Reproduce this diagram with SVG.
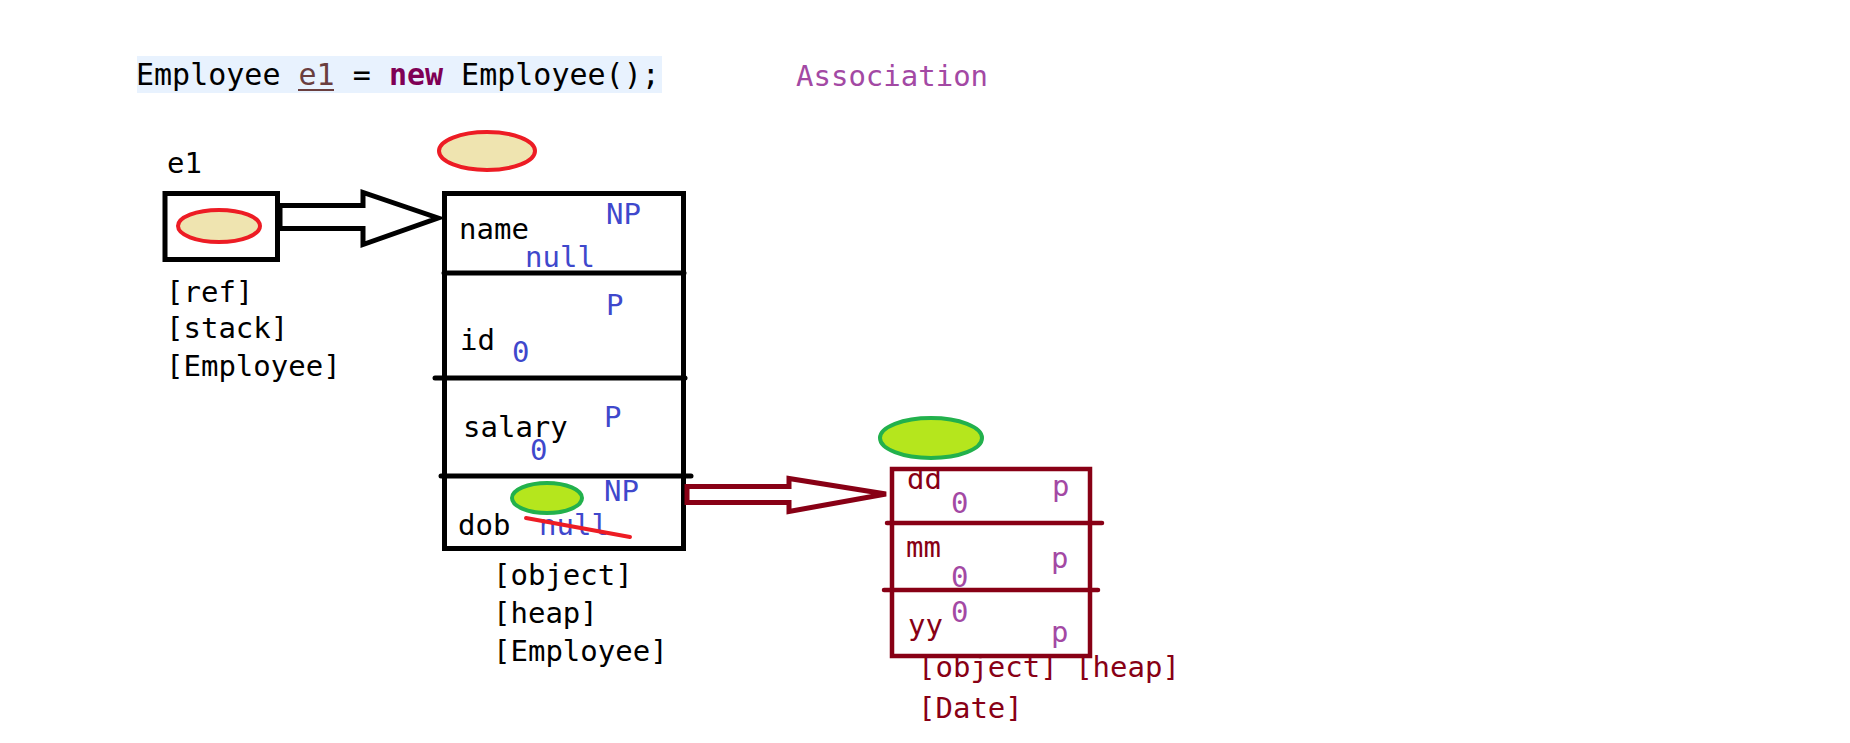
<svg xmlns="http://www.w3.org/2000/svg" width="1850" height="743" viewBox="0 0 1850 743">
<style>
text{font-family:"DejaVu Sans Mono","Liberation Mono",monospace;font-size:29px}
.k{fill:#000}
.b{fill:#3f48cc}
.pu{fill:#a349a4}
.dr{fill:#880015}
.code{font-size:30px}
.box{fill:none;stroke:#000;stroke-width:5}
.dbox{fill:none;stroke:#880015;stroke-width:4.5}
.div{stroke:#000;stroke-width:5;stroke-linecap:round}
.ddiv{stroke:#880015;stroke-width:4.5;stroke-linecap:round}
.tan{fill:#efe4b0;stroke:#ed1c24;stroke-width:4}
.grn{fill:#b5e61d;stroke:#22b14c;stroke-width:4}
</style>
<rect width="1850" height="743" fill="#fff"/>

<g id="code">
<rect x="137" y="56" width="525" height="37" fill="#e8f2fe"/>
<text x="136" y="85" class="k code">Employee <tspan fill="#6a3e3e">e1</tspan> = <tspan fill="#7f0055" font-weight="bold">new</tspan> Employee();</text>
<line x1="298" y1="90" x2="334" y2="90" stroke="#6a3e3e" stroke-width="2"/>
</g>

<g id="title">
<text x="796" y="86" class="pu">Association</text>
</g>

<g id="ref-e1">
<text x="167" y="173" class="k">e1</text>
<rect x="165" y="193.5" width="112.5" height="66" class="box"/>
<ellipse cx="219" cy="226" rx="41" ry="16" class="tan"/>
<text x="166" y="302" class="k">[ref]</text>
<text x="166" y="338" class="k">[stack]</text>
<text x="166" y="376" class="k">[Employee]</text>
</g>

<g id="employee-object">
<ellipse cx="487" cy="151" rx="48" ry="19" class="tan"/>
<rect x="444.5" y="193.5" width="239" height="355" class="box"/>
<line x1="444" y1="273" x2="684" y2="273" class="div"/>
<line x1="435" y1="378" x2="685" y2="378" class="div"/>
<line x1="441" y1="476" x2="691" y2="476" class="div"/>
<text x="459" y="239" class="k">name</text>
<text x="606" y="224" class="b">NP</text>
<text x="525" y="267" class="b">null</text>
<text x="460" y="350" class="k">id</text>
<text x="606" y="315" class="b">P</text>
<text x="512" y="362" class="b">0</text>
<text x="463" y="437" class="k">salary</text>
<text x="604" y="427" class="b">P</text>
<text x="530" y="460" class="b">0</text>
<text x="458" y="535" class="k">dob</text>
<text x="604" y="501" class="b">NP</text>
<text x="539" y="535" class="b">null</text>
<ellipse cx="547" cy="498" rx="35" ry="15" class="grn"/>
<line x1="526" y1="518" x2="630" y2="537" stroke="#ed1c24" stroke-width="4" stroke-linecap="round"/>
<text x="493" y="585" class="k">[object]</text>
<text x="493" y="623" class="k">[heap]</text>
<text x="493" y="661" class="k">[Employee]</text>
</g>

<g id="date-object">
<ellipse cx="931" cy="438" rx="51" ry="20" class="grn"/>
<text x="907" y="489" class="dr">dd</text>
<text x="951" y="513" class="pu">0</text>
<text x="1052" y="496" class="pu">p</text>
<text x="906" y="557" class="dr">mm</text>
<text x="951" y="587" class="pu">0</text>
<text x="1051" y="568" class="pu">p</text>
<text x="908" y="635" class="dr">yy</text>
<text x="951" y="622" class="pu">0</text>
<text x="1051" y="642" class="pu">p</text>
<rect x="892" y="469" width="198" height="187" class="dbox"/>
<line x1="887" y1="523" x2="1102" y2="523" class="ddiv"/>
<line x1="884" y1="590" x2="1098" y2="590" class="ddiv"/>
<text x="918" y="677" class="dr">[object] [heap]</text>
<text x="918" y="718" class="dr">[Date]</text>
</g>

<g id="connectors">
<polygon points="280,205.5 363,205.5 363,192.5 438,218 363,244.5 363,228.5 280,228.5" fill="#fff" stroke="#000" stroke-width="5"/>
<polygon points="687,486.5 789,486.5 789,478.5 886,494 789,511.5 789,502.5 687,502.5" fill="#fff" stroke="#880015" stroke-width="5"/>
</g>
</svg>
